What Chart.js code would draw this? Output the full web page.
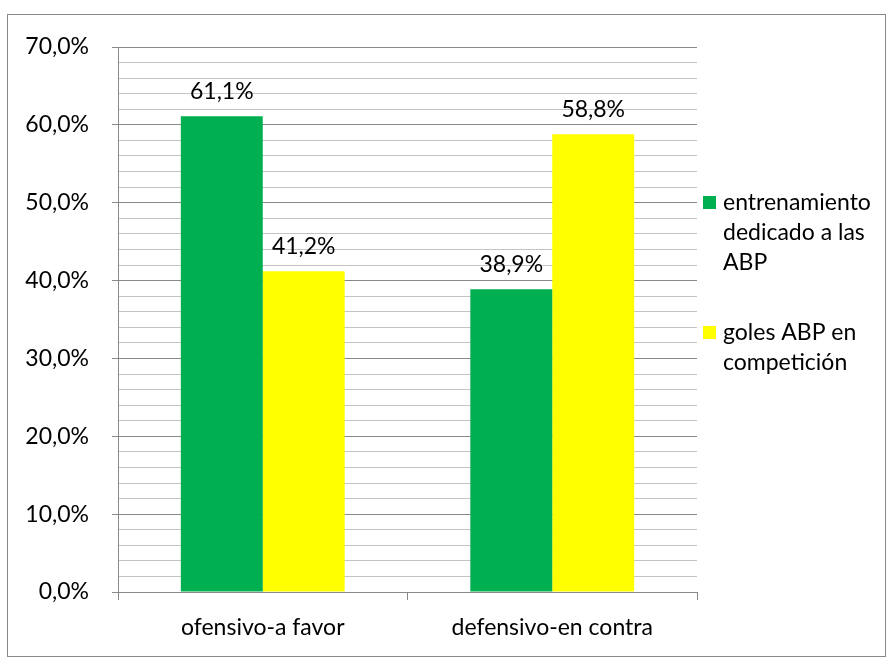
<!DOCTYPE html>
<html>
<head>
<meta charset="utf-8">
<script src="https://cdn.jsdelivr.net/npm/chart.js@4"></script>
<style>
  html, body { margin: 0; padding: 0; background: #fff; }
  #wrap { width: 889px; height: 663px; position: relative; }
</style>
</head>
<body>
<div id="wrap"><canvas id="myChart"></canvas></div>
<script>
const categories = ['ofensivo-a favor', 'defensivo-en contra'];
const seriesNames = [['entrenamiento', 'dedicado a las', 'ABP'], ['goles ABP en', 'competición']];
const entrenamiento = [61.1, 38.9];
const goles = [41.2, 58.8];
const colors = ['#00b050', '#ffff00'];

const FONT = 'Lato';
const SIZE = 23;
const fmt = v => v.toFixed(1).replace('.', ',') + '%';

// frame around the whole chart + custom wrapped legend + value labels
const extras = {
  id: 'extras',
  beforeDraw(chart) {
    const c = chart.ctx;
    c.save();
    c.strokeStyle = '#888';
    c.lineWidth = 1;
    c.strokeRect(7.5, 14.5, 878, 642);
    c.restore();
  },
  afterDatasetsDraw(chart) {
    const c = chart.ctx;
    c.save();
    c.font = SIZE + 'px ' + FONT;
    c.fillStyle = '#000';
    c.textAlign = 'center';
    c.textBaseline = 'middle';
    chart.data.datasets.forEach((ds, i) => {
      chart.getDatasetMeta(i).data.forEach((bar, j) => {
        c.fillText(fmt(ds.data[j]), bar.x, bar.y - 25);
      });
    });
    // legend
    c.textAlign = 'left';
    const starts = [203, 333];
    seriesNames.forEach((lines, i) => {
      c.fillStyle = colors[i];
      c.fillRect(703, starts[i] - 7, 13, 13);
      c.fillStyle = '#000';
      lines.forEach((t, k) => c.fillText(t, 723, starts[i] + k * 30));
    });
    c.restore();
  }
};

new Chart(document.getElementById('myChart'), {
  type: 'bar',
  data: {
    labels: categories,
    datasets: [
      { label: seriesNames[0].join(' '), data: entrenamiento, backgroundColor: colors[0] },
      { label: seriesNames[1].join(' '), data: goles, backgroundColor: colors[1] }
    ]
  },
  options: {
    responsive: true,
    maintainAspectRatio: false,
    animation: false,
    layout: { padding: { left: 0, top: 47, right: 889 - 697, bottom: 0 } },
    plugins: { legend: { display: false }, tooltip: { enabled: false } },
    datasets: { bar: { categoryPercentage: 0.566, barPercentage: 1 } },
    scales: {
      x: {
        afterFit(s) { s.height = 663 - 592; },
        border: { color: '#888' },
        grid: { drawOnChartArea: false, tickLength: 8, color: '#888' },
        ticks: { color: '#000', font: { family: FONT, size: SIZE }, padding: 14, maxRotation: 0 }
      },
      y: {
        min: 0,
        max: 70,
        afterFit(s) { s.width = 118; },
        border: { color: '#888' },
        grid: {
          tickLength: 6,
          color: ctx => ctx.tick && ctx.tick.value % 10 === 0 ? '#888' : '#c4c4c4',
          tickColor: ctx => ctx.tick && ctx.tick.value % 10 === 0 ? '#888' : 'rgba(0,0,0,0)'
        },
        ticks: {
          stepSize: 2,
          autoSkip: false,
          color: '#000',
          padding: 23,
          font: { family: FONT, size: SIZE },
          callback: v => v % 10 === 0 ? fmt(v) : ''
        }
      }
    }
  },
  plugins: [extras]
});
</script>
</body>
</html>
